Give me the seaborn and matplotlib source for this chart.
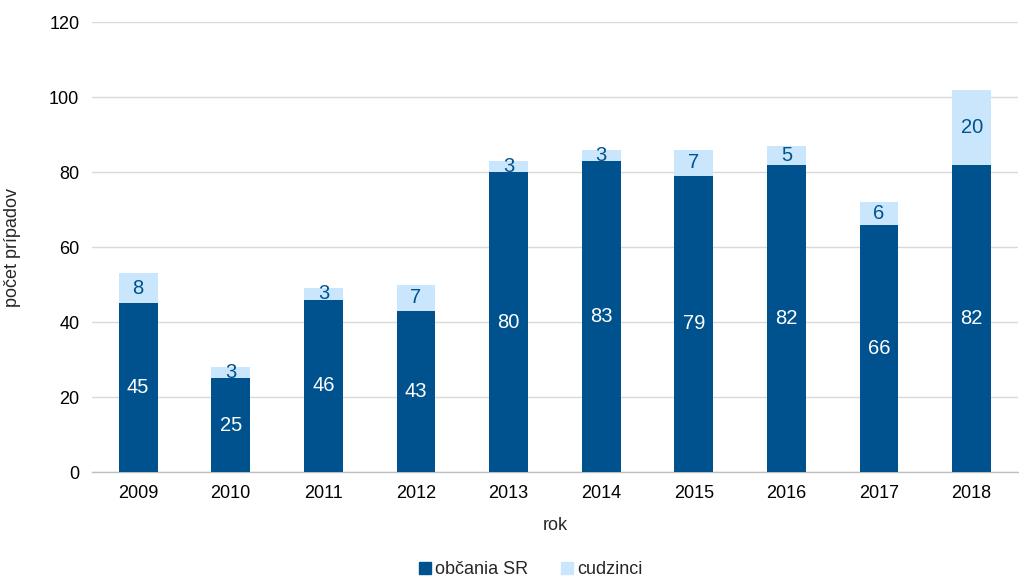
import numpy as np
import pandas as pd
import matplotlib
matplotlib.use("Agg")
import matplotlib.pyplot as plt
import seaborn as sns
from matplotlib.patches import Patch

years = ["2009", "2010", "2011", "2012", "2013", "2014", "2015", "2016", "2017", "2018"]
obcania = [45, 25, 46, 43, 80, 83, 79, 82, 66, 82]
cudzinci = [8, 3, 3, 7, 3, 3, 7, 5, 6, 20]

DARK = "#00528F"
LIGHT = "#C9E6FC"

sns.set_theme(style="white")
plt.rcParams["font.family"] = ["Liberation Sans", "DejaVu Sans"]

df = pd.DataFrame({"rok": years, "obcania": obcania, "cudzinci": cudzinci})
df["spolu"] = df["obcania"] + df["cudzinci"]

fig = plt.figure(figsize=(10.2, 5.8), dpi=100)
ax = fig.add_axes([0.090, 0.186, 0.908, 0.776])

sns.barplot(data=df, x="rok", y="spolu", color=LIGHT, width=0.42,
            saturation=1, linewidth=0, ax=ax, zorder=2)
sns.barplot(data=df, x="rok", y="obcania", color=DARK, width=0.42,
            saturation=1, linewidth=0, ax=ax, zorder=3)

for i, row in df.iterrows():
    ax.text(i, row["obcania"] / 2, str(row["obcania"]), ha="center", va="center",
            color="white", fontsize=14.5, zorder=4)
    ax.text(i, row["obcania"] + row["cudzinci"] / 2, str(row["cudzinci"]),
            ha="center", va="center", color=DARK, fontsize=14.5, zorder=4)

ax.set_ylim(0, 120)
ax.set_yticks(range(0, 121, 20))
ax.set_xlim(-0.5, len(years) - 0.5)
ax.yaxis.grid(True, color="#D9D9D9", lw=1, zorder=0)
ax.set_axisbelow(True)
for s in ["top", "right", "left"]:
    ax.spines[s].set_visible(False)
ax.spines["bottom"].set_color("#BFBFBF")
ax.spines["bottom"].set_linewidth(1)
ax.tick_params(axis="both", length=0, labelsize=13, colors="black", pad=9)

ax.set_xlabel("rok", fontsize=13, labelpad=11)
ax.set_ylabel("počet prípadov", fontsize=13, labelpad=20)

handles = [Patch(color=DARK, label="občania SR"), Patch(color=LIGHT, label="cudzinci")]
fig.legend(handles=handles, loc="lower center", bbox_to_anchor=(0.52, -0.025), ncol=2,
           frameon=False, fontsize=13, handlelength=0.7, handleheight=0.7,
           handletextpad=0.2, columnspacing=1.8)

fig.savefig("out.png", dpi=100)
